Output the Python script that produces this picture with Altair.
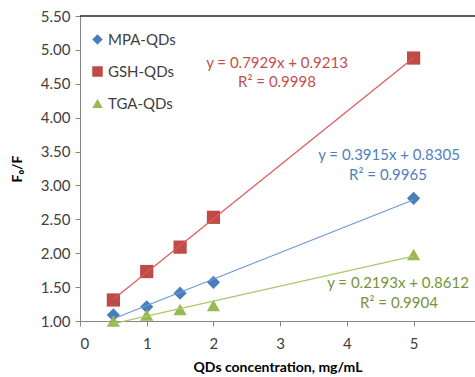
import altair as alt
import pandas as pd

conc = [0.5, 1, 1.5, 2, 5]
mpa = [1.09, 1.21, 1.41, 1.57, 2.81]
gsh = [1.31, 1.73, 2.09, 2.53, 4.88]
tga = [1.00, 1.09, 1.17, 1.23, 1.98]
series = ["MPA-QDs", "GSH-QDs", "TGA-QDs"]
marker_colors = ["#4a7ebb", "#be4b48", "#98b954"]
line_colors = ["#6d9ad6", "#e2585b", "#a9c96b"]
text_colors = ["#4f81bd", "#c0504d", "#77933c"]
shapes = ["diamond", "square", "triangle-up"]
eq_text = ["y = 0.3915x + 0.8305", "y = 0.7929x + 0.9213", "y = 0.2193x + 0.8612"]
r2_text = ["R² = 0.9965", "R² = 0.9998", "R² = 0.9904"]
x_ticks = [0, 1, 2, 3, 4, 5]
y_ticks = [1.0, 1.5, 2.0, 2.5, 3.0, 3.5, 4.0, 4.5, 5.0, 5.5]

rows = []
for s, vals in zip(series, [mpa, gsh, tga]):
    for c, v in zip(conc, vals):
        rows.append({"series": s, "conc": c, "f": v})
df = pd.DataFrame(rows)

FONT = "Lato"
xs = alt.Scale(domain=[0, 5.92], nice=False)
ys = alt.Scale(domain=[1.0, 5.5], nice=False)
xax = alt.Axis(title="QDs concentration, mg/mL", values=x_ticks, format="d", grid=False,
               tickSize=5, labelPadding=10, titlePadding=9, labelOverlap=False)
yax = alt.Axis(title="F₀/F", values=y_ticks, format=".2f", grid=False, tickSize=5,
               labelPadding=5, titlePadding=16, labelOverlap=False)

base = alt.Chart(df)

points = base.mark_point(filled=True, opacity=1, size=175).encode(
    x=alt.X("conc:Q", scale=xs, axis=xax),
    y=alt.Y("f:Q", scale=ys, axis=yax),
    color=alt.Color("series:N", scale=alt.Scale(domain=series, range=marker_colors),
                    legend=alt.Legend(title=None, orient="none", legendX=10, legendY=16,
                                      labelFontSize=15, labelFont=FONT, labelColor="#404040",
                                      symbolSize=110, rowPadding=16, symbolOpacity=1,
                                      labelOffset=3)),
    shape=alt.Shape("series:N", scale=alt.Scale(domain=series, range=shapes), legend=None),
)

lines = []
for s, lc in zip(series, line_colors):
    lines.append(
        base.transform_filter(alt.datum.series == s)
        .transform_regression("conc", "f", extent=[0.5, 5])
        .mark_line(color=lc, strokeWidth=1.2)
        .encode(x=alt.X("conc:Q", scale=xs, axis=xax), y=alt.Y("f:Q", scale=ys, axis=yax))
    )

top_rule = alt.Chart(pd.DataFrame({"y": [5.5]})).mark_rule(color="#262626", strokeWidth=1.3).encode(
    y=alt.Y("y:Q", scale=ys, axis=yax), x=alt.value(0), x2=alt.value(395))

# annotation positions (pixels within the plot area)
ann_pos = {
    "MPA-QDs": [(309, 139), (308, 159)],
    "GSH-QDs": [(197, 47), (197, 66)],
    "TGA-QDs": [(318, 267), (319, 287)],
}
texts = []
for s, e, r, tc in zip(series, eq_text, r2_text, text_colors):
    (x1, y1), (x2, y2) = ann_pos[s]
    texts.append(alt.Chart(pd.DataFrame({"t": [e]})).mark_text(
        font=FONT, fontSize=15, color=tc, align="center", baseline="middle").encode(
        text="t:N", x=alt.value(x1), y=alt.value(y1)))
    texts.append(alt.Chart(pd.DataFrame({"t": [r]})).mark_text(
        font=FONT, fontSize=15, color=tc, align="center", baseline="middle").encode(
        text="t:N", x=alt.value(x2), y=alt.value(y2)))

chart = alt.layer(points, top_rule, *lines, *texts).properties(
    width=395, height=305,
    background="white",
    autosize=alt.AutoSizeParams(type="none"),
    padding={"left": 80, "top": 16, "right": 0, "bottom": 56},
).configure_view(stroke=None).configure_axis(
    labelFont=FONT, labelFontSize=15, labelColor="#404040",
    titleFont=FONT, titleFontSize=14, titleColor="#000000", titleFontWeight="bold",
    domainColor="#868686", tickColor="#868686", domainWidth=1,
)

chart.save("out.html", embed_options={"renderer": "svg", "actions": False})
